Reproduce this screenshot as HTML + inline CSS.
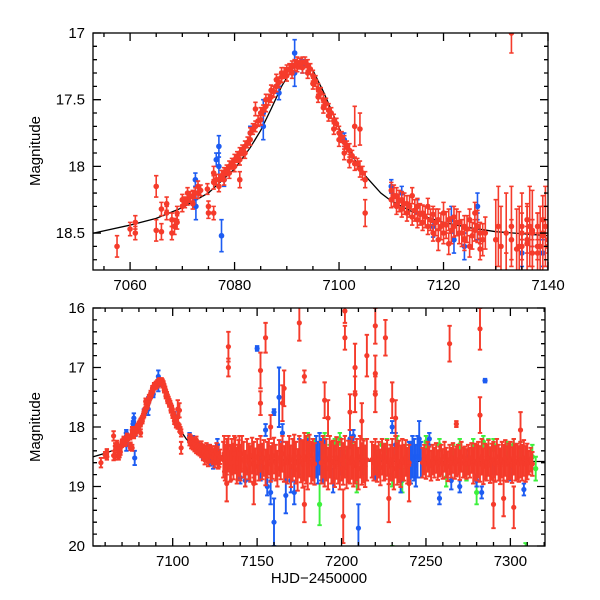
<!DOCTYPE html>
<html><head><meta charset="utf-8"><style>
html,body{margin:0;padding:0;background:#fff;}
svg{display:block;font-family:"Liberation Sans",sans-serif;}
</style></head><body>
<svg id="chart" width="600" height="600" viewBox="0 0 600 600">
<defs>
<clipPath id="clipTop"><rect x="93" y="33" width="455" height="237"/></clipPath>
<clipPath id="clipBot"><rect x="93" y="308" width="452" height="238"/></clipPath>
</defs>
<g id="topPlot" clip-path="url(#clipTop)"></g>
<g id="botPlot" clip-path="url(#clipBot)"></g>
<g id="axes"></g>
<text x="40" y="151" transform="rotate(-90 40 151)" text-anchor="middle" font-size="15">Magnitude</text>
<text x="40" y="427" transform="rotate(-90 40 427)" text-anchor="middle" font-size="15">Magnitude</text>
<text x="319" y="583" text-anchor="middle" font-size="15">HJD−2450000</text>
</svg>
<script>
// model curve (t, mag)
const modelT = [7045,7053,7060,7065,7070,7075,7080,7083,7085,7087,7089,7091,7093,7095,7097,7099,7101,7103,7105,7108,7110,7115,7120,7125,7130,7140,7160,7200,7260,7330];
const modelM = [18.54,18.5,18.44,18.39,18.31,18.2,18.02,17.86,17.73,17.57,17.4,17.27,17.22,17.28,17.44,17.62,17.8,17.95,18.07,18.2,18.26,18.36,18.42,18.46,18.49,18.52,18.55,18.57,18.58,18.58];

const redPoints = [
[7057.5,18.6,.08],[7060,18.47,.05],[7061,18.42,.05],[7061,18.5,.05],[7065,18.15,.08],[7065,18.48,.08],[7066,18.32,.05],[7066,18.49,.06],[7067,18.35,.05],[7067,18.28,.05],[7068,18.4,.05],[7068,18.5,.05],[7068.5,18.45,.06],[7069,18.42,.05],[7069,18.35,.05],[7070,18.25,.04],[7070,18.3,.04],[7071,18.25,.04],[7071,18.2,.04],[7072,18.22,.04],[7072,18.28,.04],[7073,18.2,.04],[7073,18.15,.04],[7074.8,18.17,.04],[7075,18.3,.04],[7075,18.35,.04],[7076,18.05,.05],[7076,18.12,.05],[7076,18.35,.05],[7077,18.1,.04],[7077,18.15,.04],[7078,18.05,.04],[7078,18.1,.04],[7079,18.0,.04],[7079,18.05,.04],[7080,17.95,.04],[7080,18.0,.04],[7081,18.1,.06],[7081,17.9,.04],[7081,17.95,.04],[7082,17.85,.04],[7082,17.9,.04],[7083,17.8,.04],[7083,17.75,.04],[7084,17.57,.05],[7084,17.7,.04],[7085,17.65,.04],[7085,17.6,.04],[7086,17.55,.04],[7086,17.5,.04],[7087,17.48,.04],[7087,17.43,.04],[7088,17.4,.04],[7088,17.35,.04],[7089,17.33,.04],[7089,17.3,.04],[7090,17.28,.04],[7090,17.32,.04],[7091,17.25,.04],[7091,17.3,.04],[7092,17.25,.04],[7092,17.22,.04],[7093,17.22,.04],[7093,17.26,.04],[7094,17.24,.04],[7094,17.3,.04],[7095,17.32,.04],[7095,17.38,.04],[7096,17.42,.04],[7096,17.48,.04],[7097,17.5,.04],[7097,17.56,.04],[7098,17.58,.05],[7098,17.62,.04],[7099,17.66,.05],[7099,17.72,.04],[7100,17.75,.05],[7100,17.8,.05],[7101,17.82,.05],[7101,17.9,.05],[7102,17.88,.05],[7102,17.96,.05],[7103,17.98,.05],[7103,17.7,.15],[7104,18.02,.06],[7104,17.72,.12],[7105,18.1,.06],[7105,18.35,.1],
[7110,18.18,.06],[7110,18.25,.06],[7111,18.22,.06],[7111,18.3,.06],[7112,18.25,.06],[7112,18.32,.06],[7113,18.28,.06],[7113,18.35,.06],[7114,18.22,.06],[7114,18.38,.06],[7115,18.3,.06],[7115,18.4,.06],[7116,18.35,.06],[7116,18.42,.06],[7117,18.3,.06],[7117,18.45,.06],[7118,18.36,.06],[7118,18.5,.06],[7119,18.4,.08],[7119,18.55,.08],[7120,18.35,.08],[7120,18.5,.08],[7121,18.4,.08],[7121,18.58,.08],[7122,18.45,.08],[7122,18.38,.08],[7123,18.5,.08],[7123,18.42,.08],[7124,18.45,.08],[7124,18.55,.08],[7125,18.4,.08],[7125,18.6,.08],[7126,18.48,.08],[7126,18.35,.08],[7127,18.5,.08],[7127,18.62,.08],[7133,17.0,.15],[7133,18.55,.15],[7135,18.45,.1],[7135,18.6,.1],[7136,18.4,.1],[7136,18.55,.1],[7137,18.5,.1],[7137,18.65,.1],[7138,18.45,.1],[7138,18.6,.1],[7139,18.5,.1],[7139,18.4,.1],[7140,18.55,.1],
[7130,18.55,.3],[7131,18.6,.3],[7132,18.5,.3],[7133,18.45,.3],[7134,18.62,.3],[7135,18.5,.3],[7136,18.58,.3],[7137,18.48,.3],[7138,18.65,.3],[7139,18.52,.3],[7140,18.6,.3],[7141,18.45,.3],[7142,18.55,.3],[7143,18.7,.3],[7144,18.5,.3],[7145,18.58,.3],[7146,18.62,.3],[7147,18.48,.3],[7148,18.55,.3],[7149,18.66,.3],[7150,18.5,.3],[7151,18.6,.3],[7152,18.45,.3],[7153,18.58,.3],[7154,18.52,.3],[7155,18.68,.3],[7156,18.55,.3],[7157,18.5,.3],[7158,18.62,.3],[7159,18.57,.3],[7160,18.48,.3],[7161,18.6,.3],[7162,18.7,.3],[7163,18.52,.3],[7164,18.58,.3],[7165,18.45,.3],[7166,18.62,.3],[7167,18.55,.3],[7168,18.6,.35],[7169,18.5,.35],[7170,18.66,.35],[7171,18.55,.35],[7172,18.48,.35],[7173,18.6,.35],[7174,18.72,.35],[7175,18.5,.35],[7176,18.58,.35],[7177,18.62,.4],[7178,18.5,.4],[7179,18.55,.4],[7180,18.65,.4],[7181,18.48,.35],[7182,18.6,.35],[7183,18.55,.35],[7184,18.62,.35],
[7188,18.6,.35],[7189,18.5,.35],[7190,18.65,.35],[7191,18.55,.35],[7192,18.7,.35],[7193,18.5,.35],[7194,18.6,.35],[7195,18.58,.35],[7196,18.66,.35],[7197,18.52,.35],[7198,18.6,.35],[7199,18.7,.35],[7200,18.55,.35],[7201,18.62,.35],[7202,18.5,.35],[7203,18.68,.35],[7204,18.58,.35],[7205,18.6,.35],[7206,18.52,.35],[7207,18.65,.35],[7208,18.6,.35],[7209,18.55,.35],[7210,18.7,.35],[7211,18.5,.35],[7212,18.62,.35],[7213,18.58,.35],[7214,18.66,.35],[7215,18.55,.35],
[7218,18.55,.3],[7219,18.6,.3],[7220,18.5,.3],[7221,18.62,.3],[7222,18.55,.3],[7223,18.68,.3],[7224,18.5,.3],[7225,18.6,.3],[7226,18.58,.3],[7227,18.52,.3],[7228,18.66,.3],[7229,18.6,.3],[7230,18.55,.35],[7231,18.7,.35],[7232,18.5,.35],[7233,18.62,.35],[7234,18.58,.35],[7235,18.66,.35],[7236,18.55,.35],[7237,18.6,.3],[7238,18.52,.3],[7239,18.65,.3],[7240,18.6,.3],
[7248,18.6,.25],[7249,18.55,.25],[7250,18.62,.25],[7251,18.5,.25],[7252,18.58,.25],[7253,18.65,.25],[7254,18.55,.25],[7255,18.6,.25],[7256,18.52,.25],[7257,18.64,.25],[7258,18.58,.25],[7259,18.55,.25],[7260,18.62,.25],[7261,18.5,.25],[7262,18.6,.25],[7263,18.66,.25],[7264,18.55,.25],[7265,18.6,.25],[7266,18.52,.25],[7267,18.62,.25],[7268,18.58,.25],[7269,18.55,.25],[7270,18.64,.25],[7271,18.5,.25],[7272,18.6,.25],[7273,18.58,.25],[7274,18.62,.25],[7275,18.55,.25],[7276,18.6,.25],[7277,18.52,.25],[7278,18.65,.3],[7279,18.58,.3],[7280,18.6,.3],[7281,18.55,.3],[7282,18.62,.3],[7283,18.5,.3],[7284,18.66,.3],[7285,18.58,.3],[7286,18.6,.3],[7287,18.52,.3],[7288,18.64,.3],[7289,18.58,.3],[7290,18.55,.3],[7291,18.62,.3],[7292,18.5,.3],[7293,18.6,.3],[7294,18.66,.3],[7295,18.55,.3],[7296,18.6,.3],[7297,18.52,.3],[7298,18.62,.3],[7299,18.58,.3],[7300,18.55,.3],[7301,18.64,.3],[7302,18.5,.3],[7303,18.6,.3],[7304,18.58,.3],[7305,18.62,.3],[7306,18.55,.3],[7307,18.6,.3],[7308,18.52,.3],[7309,18.62,.3],[7310,18.58,.3],[7311,18.6,.2],[7312,18.55,.2],[7313,18.62,.2],
[7133,16.65,.25],[7152,17.05,.3],[7152,17.6,.2],[7155,16.5,.25],[7175,16.25,.3],[7178,17.15,.1],[7202,16.05,.2],[7202,16.5,.2],[7208,17.0,.4],[7208,17.45,.3],[7215,16.8,.35],[7220,16.3,.3],[7220,17.1,.3],[7220,17.45,.3],[7226,16.5,.3],[7230,17.55,.3],[7264,16.6,.3],[7268,17.95,.05],[7282,16.35,.35],[7282,17.8,.3],[7201,19.5,.45],[7228,19.2,.4],[7290,19.3,.4],[7302,19.35,.35],[7132,18.95,.3],[7148,18.95,.35],[7166,17.35,.3],[7165,17.6,.3],[7190,17.55,.3],[7192,17.85,.3],[7205,17.75,.3],[7212,17.9,.3],[7232,17.85,.3],[7158,18.0,.2],[7178,19.3,.3],[7240,18.95,.3],[7296,19.2,.3],[7306,18.05,.3]
];

// extra dense coverage of the rise/peak/decline (red)
const redDensePoints = [
[7070.5,18.27,.04],[7071.5,18.23,.04],[7072.5,18.2,.04],[7073.5,18.18,.04],[7076.5,18.1,.04],[7077.5,18.07,.04],[7078.5,18.03,.04],[7079.5,17.98,.04],[7080.5,17.93,.04],[7081.5,17.88,.04],[7082.5,17.82,.04],[7083.5,17.72,.04],[7084.5,17.66,.04],[7085.5,17.58,.04],[7086.5,17.5,.04],[7087.5,17.44,.04],[7088.5,17.37,.04],[7089.5,17.3,.04],[7090.5,17.27,.04],[7091.5,17.24,.04],[7092.5,17.23,.04],[7093.5,17.22,.04],[7094.5,17.27,.04],[7095.5,17.36,.04],[7096.5,17.45,.04],[7097.5,17.53,.04],[7098.5,17.6,.04],[7099.5,17.68,.04],[7100.5,17.78,.04],[7101.5,17.85,.04],[7102.5,17.92,.04],[7103.5,17.98,.04],[7104.5,18.05,.05],
[7110.5,18.22,.08],[7111.5,18.26,.08],[7112.5,18.28,.08],[7113.5,18.3,.08],[7114.5,18.33,.08],[7115.5,18.36,.08],[7116.5,18.38,.08],[7117.5,18.4,.08],[7118.5,18.42,.1],[7119.5,18.45,.1],[7120.5,18.44,.1],[7121.5,18.48,.1],[7122.5,18.42,.1],[7123.5,18.5,.1],[7124.5,18.47,.1],[7125.5,18.52,.1],[7126.5,18.45,.12],[7127.5,18.55,.12],[7128,18.5,.12],
[7130.5,18.45,.3],[7134.5,18.6,.3],[7136.5,18.45,.3],[7138.5,18.6,.3],[7139.5,18.45,.3]
];

const bluePoints = [
[7072.5,18.1,.05],[7072.5,18.2,.05],[7072.6,18.3,.1],[7076.5,17.95,.05],[7077,17.85,.08],[7077,18.0,.1],[7077.5,18.52,.12],[7078,18.1,.05],[7083,17.75,.05],[7085.5,17.6,.1],[7085.5,17.7,.1],[7088,17.4,.05],[7088.5,17.45,.05],[7091.5,17.15,.1],[7091.5,17.3,.1],[7093,17.25,.05],[7101,17.8,.05],[7110,18.15,.05],[7112,18.2,.05],[7115,18.3,.05],[7118,18.45,.08],[7121.5,18.4,.1],[7122,18.55,.1],[7124,18.6,.1],[7126.5,18.3,.1],[7126.5,18.45,.1],[7135,18.65,.1],[7137,18.5,.1],[7139,18.65,.1],
[7140,18.85,.1],[7143,18.9,.1],[7145,18.75,.15],[7150,16.68,.04],[7152,18.6,.3],[7155,18.05,.1],[7156,19.0,.15],[7158,19.1,.2],[7160,17.75,.05],[7160,19.6,.4],[7163,17.5,.5],[7165,18.1,.15],[7167,19.15,.3],[7170,18.9,.2],[7172,19.1,.2],[7175,18.5,.3],[7180,18.4,.2],
[7185,18.5,.35],[7186,18.6,.35],[7187,18.45,.35],[7188,18.55,.35],[7189,18.6,.35],[7190,18.5,.3],[7195,18.9,.2],[7200,18.6,.2],[7205,18.2,.15],[7207,18.15,.1],[7210,19.7,.4],[7212,18.6,.2],[7220,18.7,.2],[7225,18.55,.2],[7230,18.0,.1],[7232,18.3,.2],[7235,18.9,.2],
[7240,18.55,.3],[7241,18.6,.35],[7242,18.5,.35],[7243,18.55,.35],[7244,18.65,.35],[7245,18.5,.35],[7246,18.2,.3],[7247,18.55,.3],[7252,18.2,.1],[7258,19.2,.1],[7265,18.9,.15],[7270,19.0,.1],[7275,18.5,.1],[7280,18.9,.1],[7283,19.1,.1],[7285,17.22,.03],[7290,18.7,.1],[7300,18.8,.1],[7308,19.05,.1]
];

const greenPoints = [
[7180,18.2,.1],[7182,18.35,.1],[7184,18.3,.1],[7187,19.3,.35],[7190,18.25,.15],[7193,18.5,.2],[7196,18.3,.1],[7199,18.2,.1],[7203,18.6,.2],[7206,18.25,.1],[7209,18.9,.2],[7213,18.5,.3],[7221,18.6,.2],[7224,18.3,.1],[7227,18.4,.2],[7230,18.8,.2],[7233,18.25,.1],[7236,18.9,.2],[7238,18.5,.2],[7250,18.25,.1],[7254,18.6,.2],[7258,18.3,.1],[7262,18.85,.15],[7266,18.45,.15],[7270,18.3,.1],[7274,18.7,.2],[7278,18.35,.15],[7280,19.1,.2],[7284,18.25,.1],[7287,18.4,.2],[7290,18.3,.1],[7294,18.6,.2],[7298,18.45,.2],[7302,18.3,.1],[7306,18.4,.15],[7310,18.6,.2],[7313,18.5,.2],[7315,18.7,.2],[7230,20.05,.05],[7309,20.05,.1]
];

const topXTicks = [7060,7080,7100,7120,7140];
const topYTicks = [17,17.5,18,18.5];
const botXTicks = [7100,7150,7200,7250,7300];
const botYTicks = [16,17,18,19,20];

const NS = "http://www.w3.org/2000/svg";
const T = {x0:93,x1:548,y0:33,y1:270,t0:7052.9,t1:7140,m0:17,m1:18.777,r:2.8,w:1.6};
const B = {x0:93,x1:545,y0:308,y1:546,t0:7052.8,t1:7320.5,m0:16,m1:20,r:2.6,w:1.9};
function sx(P,t){return P.x0+(t-P.t0)/(P.t1-P.t0)*(P.x1-P.x0);}
function sy(P,m){return P.y0+(m-P.m0)/(P.m1-P.m0)*(P.y1-P.y0);}
function mk(tag,attrs,parent){const e=document.createElementNS(NS,tag);for(const k in attrs)e.setAttribute(k,attrs[k]);parent.appendChild(e);return e;}

function drawPanel(P,g,name){
  let d="";
  modelT.forEach((t,i)=>{d+=(i?"L":"M")+sx(P,t).toFixed(1)+","+sy(P,modelM[i]).toFixed(1);});
  const line=mk("path",{d:d,fill:"none",stroke:"#000","stroke-width":1.3},g);
  
  
  const series=[["green",greenPoints,"#3cf03c"],["blue",bluePoints,"#1d5cf2"],["red",redPoints,"#f53b2b"],["red-dense",redDensePoints,"#f53b2b"]];
  series.forEach(([sn,pts,col])=>{
    const sg=mk("g",{stroke:col,fill:col},g);
    
    
    pts.forEach(p=>{
      const x=sx(P,p[0]),y=sy(P,p[1]),ya=sy(P,p[1]-p[2]),yb=sy(P,p[1]+p[2]);
      const pg=mk("g",{},sg);
      
      
      mk("path",{d:`M${x},${ya}V${yb}M${x-2.2},${ya}H${x+2.2}M${x-2.2},${yb}H${x+2.2}`,"stroke-width":P.w,fill:"none"},pg);
      mk("circle",{cx:x,cy:y,r:P.r,stroke:"none"},pg);
    });
  });
}

function drawAxes(P,xt,xminor,yt,yminor,name){
  const a=document.getElementById("axes");
  const g=mk("g",{stroke:"#000","stroke-width":1.3,fill:"none"},a);
  
  
  mk("rect",{x:P.x0,y:P.y0,width:P.x1-P.x0,height:P.y1-P.y0},g);
  let d="";
  for(let t=Math.ceil(P.t0/xminor)*xminor;t<=P.t1;t+=xminor){
    const major=xt.includes(t);const L=major?8:4;const x=sx(P,t);
    d+=`M${x},${P.y1}v${-L}M${x},${P.y0}v${L}`;
  }
  for(let m=P.m0;m<=P.m1+1e-6;m+=yminor){
    const mm=Math.round(m*100)/100;const major=yt.some(v=>Math.abs(v-mm)<1e-6);const L=major?8:4;const y=sy(P,mm);
    d+=`M${P.x0},${y}h${L}M${P.x1},${y}h${-L}`;
  }
  mk("path",{d:d},g);
  xt.forEach(t=>{
    const tx=mk("text",{x:sx(P,t),y:P.y1+20,"text-anchor":"middle","font-size":15,fill:"#000",stroke:"none"},a);
    tx.textContent=t;
    
    
  });
  yt.forEach(m=>{
    const ty=mk("text",{x:P.x0-8,y:sy(P,m)+5,"text-anchor":"end","font-size":15,fill:"#000",stroke:"none"},a);
    ty.textContent=m;
    
    
  });
}

drawPanel(T,document.getElementById("topPlot"),"top");
drawPanel(B,document.getElementById("botPlot"),"bottom");
drawAxes(T,topXTicks,5,topYTicks,0.1,"top");
drawAxes(B,botXTicks,10,botYTicks,0.2,"bottom");
</script>
</body></html>
